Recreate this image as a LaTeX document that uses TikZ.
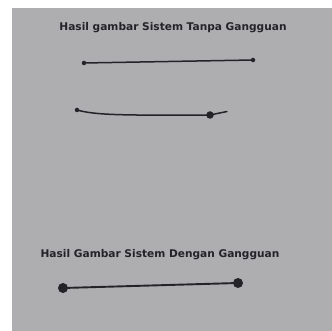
\documentclass[tikz,border=0pt]{standalone}
\usepackage{fontspec}
\setmainfont{DejaVu Sans}
\definecolor{paper}{RGB}{174,174,176}
\definecolor{ink}{RGB}{36,36,40}
\tikzset{
  title/.style={font=\fontsize{10.6}{12}\selectfont\bfseries, text=ink, inner sep=0pt},
  pen/.style={draw=ink, line width=1.5pt, line cap=round},
  smalldot/.style={circle, fill=ink, inner sep=0pt, minimum size=4.5pt},
  bigdot/.style={circle, fill=ink, inner sep=0pt, minimum size=10pt},
  middot/.style={circle, fill=ink, inner sep=0pt, minimum size=7.5pt}
}
\begin{document}
\begin{tikzpicture}[x=1pt,y=-1pt]
\useasboundingbox (0,0) rectangle (332,331);
\fill[white] (0,0) rectangle (332,331);
\fill[paper] (12,8) rectangle (332,331);
\node[title] (t1) at (173,28) {Hasil gambar Sistem Tanpa Gangguan};
\node[smalldot] (a1) at (84,63) {};
\node[smalldot] (b1) at (253,60) {};
\draw[pen] (a1) -- (b1);
\node[smalldot] (a2) at (77,110) {};
\node[middot] (m2) at (210,115) {};
\coordinate (b2) at (227,111.5);
\draw[pen] (a2.center) .. controls (95,115) and (120,115.5) .. (m2.center) -- (b2);
\node[title] (t2) at (160,255) {Hasil Gambar Sistem Dengan Gangguan};
\node[bigdot] (a3) at (63,288) {};
\node[bigdot] (b3) at (238,283) {};
\draw[pen, line width=1.9pt] (a3) -- (b3);
\end{tikzpicture}
\end{document}
